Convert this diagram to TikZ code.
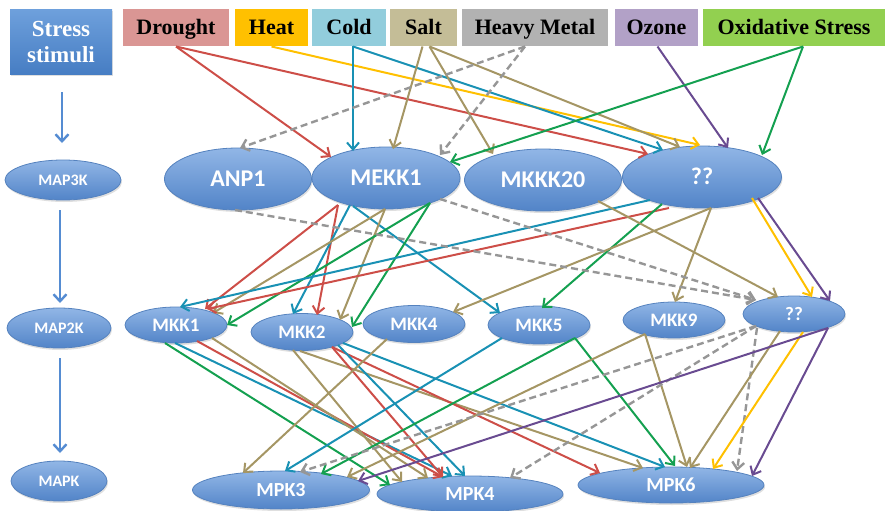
\documentclass[tikz,border=0pt]{standalone}
\usepackage{fontspec}
\setmainfont{Liberation Serif}
\newfontfamily\calib{Carlito}
\usetikzlibrary{shapes.geometric,arrows.meta,shadows}
\definecolor{cRed}{RGB}{205,78,72}
\definecolor{cBlue}{RGB}{25,145,180}
\definecolor{cYel}{RGB}{255,192,0}
\definecolor{cTan}{RGB}{165,150,100}
\definecolor{cGray}{RGB}{150,150,150}
\definecolor{cPur}{RGB}{105,75,145}
\definecolor{cGrn}{RGB}{20,160,80}
\definecolor{fDrought}{RGB}{218,150,148}
\definecolor{fHeat}{RGB}{255,192,0}
\definecolor{fCold}{RGB}{146,205,220}
\definecolor{fSalt}{RGB}{196,189,151}
\definecolor{fHM}{RGB}{178,178,178}
\definecolor{fOzone}{RGB}{178,161,199}
\definecolor{fOx}{RGB}{146,208,80}
\definecolor{eTop}{RGB}{145,182,230}
\definecolor{eBot}{RGB}{82,132,200}
\definecolor{eLine}{RGB}{85,130,190}
\definecolor{lArrow}{RGB}{85,140,210}
\definecolor{sTop}{RGB}{110,160,220}
\definecolor{sBot}{RGB}{70,125,195}
\newcommand\lnk[5]{\draw[#1] ([shift={(#3)}]#2.center) -- ([shift={(#5)}]#4.center);}
\tikzset{
  box/.style={rectangle, inner sep=0pt, font=\bfseries\fontsize{22}{24}\selectfont, text=black, text height=14.6pt, text depth=0pt},
  ell/.style={ellipse, draw=eLine, line width=0.8pt, top color=eTop, bottom color=eBot,
     text=white, inner sep=0pt, font=\calib\bfseries, text depth=0pt,
     drop shadow={opacity=0.25, shadow xshift=1pt, shadow yshift=-2pt}},
  big/.style={ell, font=\calib\bfseries\fontsize{24}{26}\selectfont, text height=15.5pt},
  mid/.style={ell, font=\calib\bfseries\fontsize{19}{21}\selectfont, text height=12.2pt},
  low/.style={ell, font=\calib\bfseries\fontsize{20}{22}\selectfont, text height=12.9pt},
  sml/.style={ell, font=\calib\bfseries\fontsize{16}{18}\selectfont, text height=10.3pt},
  ar/.style={line width=2pt, -{Straight Barb[length=7pt,width=12pt]}},
  dsh/.style={ar, cGray, line width=2.4pt, dash pattern=on 7pt off 4pt},
  larr/.style={lArrow, line width=2.4pt, -{Straight Barb[length=7pt,width=13pt]}}
}
\begin{document}
\begin{tikzpicture}[x=1pt,y=-1pt]
\useasboundingbox (0,0) rectangle (886,511);
% top boxes
\node[rectangle, inner sep=0pt, minimum width=102, minimum height=65, top color=sTop, bottom color=sBot, text=white, align=center, font=\bfseries\fontsize{23}{26}\selectfont, drop shadow={opacity=0.25, shadow xshift=1pt, shadow yshift=-2pt}] (stress) at (61,42) {Stress\\stimuli};
\node[box, fill=fDrought, minimum width=106, minimum height=37] (drought) at (176,27.5) {Drought};
\node[box, fill=fHeat, minimum width=73, minimum height=37] (heat) at (271.5,27.5) {Heat};
\node[box, fill=fCold, minimum width=74, minimum height=37] (cold) at (349,27.5) {Cold};
\node[box, fill=fSalt, minimum width=67, minimum height=37] (salt) at (423.5,27.5) {Salt};
\node[box, fill=fHM, minimum width=146, minimum height=37] (hm) at (535,27.5) {Heavy Metal};
\node[box, fill=fOzone, minimum width=83, minimum height=37] (ozone) at (656.5,27.5) {Ozone};
\node[box, fill=fOx, minimum width=182, minimum height=37] (ox) at (794,27.5) {Oxidative Stress};
% left column
\node[sml, minimum width=116, minimum height=40] (map3k) at (63,180) {MAP3K};
\node[sml, minimum width=104, minimum height=40] (map2k) at (59,328) {MAP2K};
\node[sml, minimum width=96, minimum height=40] (mapk) at (59,481) {MAPK};
\draw[larr] ([shift={(1,50)}]stress.center) -- ([shift={(-1,-37)}]map3k.center);
\draw[larr] ([shift={(-3,30)}]map3k.center) -- ([shift={(1,-25)}]map2k.center);
\draw[larr] ([shift={(1,30)}]map2k.center) -- ([shift={(1,-28)}]mapk.center);
% MAP3K row
\node[big, minimum width=147, minimum height=62] (anp) at (238,179) {ANP1};
\node[big, minimum width=148, minimum height=62] (mekk1) at (386,178) {MEKK1};
\node[big, minimum width=157, minimum height=62] (mkkk) at (543,180) {MKKK20};
\node[big, minimum width=159, minimum height=62] (qa) at (702,177) {??};
% MAP2K row
\node[mid, minimum width=102, minimum height=36] (mkka) at (176,325) {MKK1};
\node[mid, minimum width=102, minimum height=37] (mkkb) at (302,332) {MKK2};
\node[mid, minimum width=102, minimum height=37] (mkkd) at (414,324) {MKK4};
\node[mid, minimum width=102, minimum height=38] (mkke) at (539,325) {MKK5};
\node[mid, minimum width=102, minimum height=36] (mkki) at (674,320) {MKK9};
\node[mid, minimum width=102, minimum height=36] (qb) at (794,314) {??};
% MAPK row
\node[low, minimum width=177, minimum height=38] (mpkc) at (281,490) {MPK3};
\node[low, minimum width=186, minimum height=36] (mpkd) at (470,494) {MPK4};
\node[low, minimum width=186, minimum height=36] (mpkf) at (671,485) {MPK6};
% stimuli -> MAP3K
\lnk{ar,cRed}{drought}{0,19}{mekk1}{-55,-21}
\lnk{ar,cRed}{drought}{0,19}{qa}{-54,-23}
\lnk{ar,cYel}{heat}{0,19}{qa}{-2,-32}
\lnk{ar,cBlue}{cold}{4,19}{mekk1}{-33,-27}
\lnk{ar,cBlue}{cold}{4,19}{qa}{-39,-27}
\lnk{ar,cTan}{salt}{-1,19}{mekk1}{7,-29}
\lnk{ar,cTan}{salt}{6,19}{mkkk}{-50,-26}
\lnk{ar,cTan}{salt}{6,19}{qa}{-22,-30}
\lnk{dsh}{hm}{-10,19}{anp}{2,-31}
\lnk{dsh}{hm}{-10,19}{mekk1}{54,-23}
\lnk{ar,cPur}{ozone}{1,19}{qa}{26,-29}
\lnk{ar,cGrn}{ox}{9,19}{mekk1}{64,-16}
\lnk{ar,cGrn}{ox}{9,19}{qa}{60,-22}
% MAP3K -> MAP2K
\lnk{ar,cRed}{mekk1}{-48,27}{mkka}{29,-16}
\lnk{ar,cRed}{mekk1}{-48,27}{mkkb}{15,-17}
\lnk{ar,cBlue}{mekk1}{-36,27}{mkkb}{-9,-18}
\lnk{ar,cBlue}{mekk1}{-33,28}{mkke}{-39,-12}
\lnk{ar,cTan}{mekk1}{-1,31}{mkka}{37,-12}
\lnk{ar,cTan}{mekk1}{-1,31}{mkkb}{38,-12}
\lnk{ar,cGrn}{mekk1}{44,25}{mkka}{51,0}
\lnk{ar,cGrn}{mekk1}{44,25}{mkkb}{50,-5}
\lnk{ar,cBlue}{qa}{-52,23}{mkka}{4,-18}
\lnk{ar,cRed}{qa}{-33,31}{mkka}{31,-16}
\lnk{ar,cGrn}{qa}{-40,27}{mkke}{3,-17}
\lnk{ar,cTan}{qa}{9,31}{mkkd}{39,-12}
\lnk{ar,cTan}{qa}{9,31}{mkki}{1,-18}
\lnk{ar,cYel}{qa}{50,21}{qb}{18,-17}
\lnk{ar,cPur}{qa}{56,21}{qb}{36,-13}
\lnk{ar,cTan}{mkkk}{55,21}{qb}{-16,-17}
\lnk{dsh}{anp}{-3,31}{qb}{-38,-14}
\lnk{dsh}{mekk1}{54,21}{qb}{-38,-14}
% MAP2K -> MAPK
\lnk{ar,cGrn}{mkka}{-11,18}{mpkd}{-80,-9}
\lnk{ar,cBlue}{mkka}{-1,18}{mpkd}{-18,-18}
\lnk{ar,cRed}{mkka}{21,16}{mpkd}{-27,-17}
\lnk{ar,cTan}{mkka}{36,13}{mpkd}{-42,-16}
\lnk{ar,cTan}{mkkb}{-9,18}{mpkd}{-68,-12}
\lnk{ar,cTan}{mkkb}{-2,19}{mpkf}{-28,-17}
\lnk{ar,cRed}{mkkb}{30,15}{mpkd}{-27,-17}
\lnk{ar,cRed}{mkkb}{30,15}{mpkf}{-71,-12}
\lnk{ar,cBlue}{mkkb}{36,13}{mpkd}{-5,-18}
\lnk{ar,cBlue}{mkkb}{41,11}{mpkf}{-6,-18}
\lnk{ar,cTan}{mkkd}{-27,15}{mpkc}{-38,-17}
\lnk{ar,cBlue}{mkke}{-37,13}{mpkc}{4,-19}
\lnk{ar,cGrn}{mkke}{36,13}{mpkc}{40,-16}
\lnk{ar,cGrn}{mkke}{36,13}{mpkf}{4,-19}
\lnk{ar,cTan}{mkki}{-29,14}{mpkc}{66,-13}
\lnk{ar,cTan}{mkki}{-29,14}{mpkf}{16,-18}
\lnk{dsh}{qb}{-38,12}{mpkc}{19,-18}
\lnk{dsh}{qb}{-38,12}{mpkd}{40,-16}
\lnk{dsh}{qb}{-37,14}{mpkf}{66,-14}
\lnk{ar,cTan}{qb}{-14,17}{mpkf}{19,-17}
\lnk{ar,cYel}{qb}{9,18}{mpkf}{42,-16}
\lnk{ar,cPur}{qb}{34,14}{mpkf}{81,-9}
\lnk{ar,cPur}{qb}{34,14}{mpkc}{77,-9}
\end{tikzpicture}
\end{document}
